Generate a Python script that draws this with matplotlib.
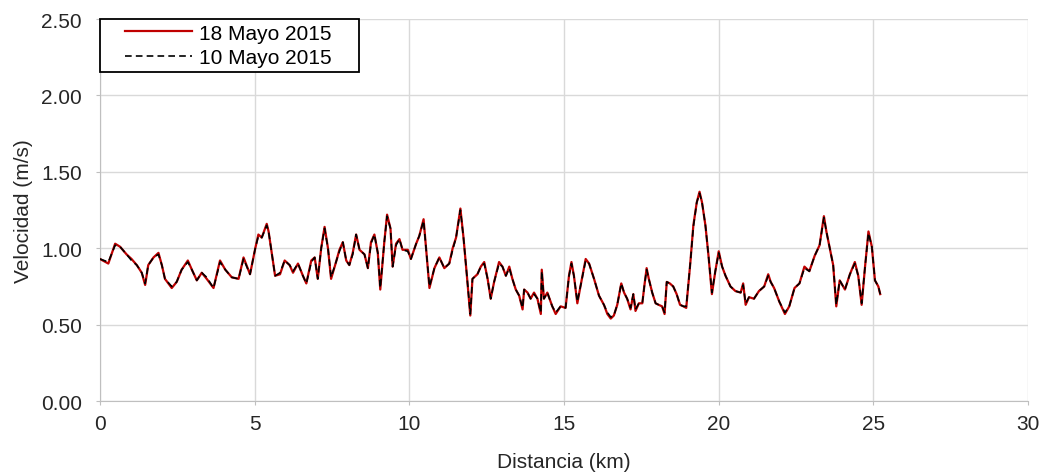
import numpy as np
import matplotlib.pyplot as plt
from matplotlib.legend_handler import HandlerLine2D

# distancia (km) y velocidad (m/s)
dist = [0.00, 0.27, 0.49, 0.65, 0.86, 1.02, 1.19, 1.35, 1.46, 1.56,
        1.73, 1.89, 2.00, 2.10, 2.32, 2.48, 2.64, 2.84, 2.97, 3.13,
        3.29, 3.45, 3.67, 3.88, 4.05, 4.26, 4.48, 4.64, 4.85, 5.02,
        5.12, 5.23, 5.39, 5.45, 5.66, 5.82,
        5.97, 6.13, 6.24, 6.40, 6.56, 6.67, 6.83, 6.94, 7.04, 7.15,
        7.26, 7.37, 7.47, 7.63, 7.74, 7.85, 7.96, 8.06, 8.17, 8.28,
        8.39, 8.55, 8.66, 8.76, 8.87, 8.98, 9.06, 9.19, 9.28, 9.39,
        9.46, 9.57, 9.68, 9.78, 9.95, 10.05, 10.22, 10.32, 10.46, 10.54,
        10.65, 10.81, 10.97, 11.13, 11.29, 11.40, 11.51, 11.65, 11.75, 11.86,
        11.97, 12.04, 12.20, 12.31, 12.42,
        12.53, 12.63, 12.74, 12.90, 13.01, 13.12, 13.23, 13.33, 13.44, 13.55,
        13.66, 13.71, 13.82, 13.92, 14.03, 14.14, 14.25, 14.28, 14.35, 14.46,
        14.62, 14.73, 14.89, 15.05, 15.16, 15.24, 15.32, 15.43, 15.54, 15.70,
        15.81, 15.97, 16.13, 16.29, 16.40, 16.51, 16.61, 16.72, 16.85, 16.94,
        17.04, 17.15, 17.24, 17.31, 17.42, 17.53, 17.60, 17.67, 17.74, 17.85,
        17.96, 18.06, 18.17, 18.25,
        18.32, 18.42, 18.53, 18.64, 18.75, 18.86, 18.95, 19.08, 19.18, 19.29,
        19.38, 19.46, 19.57, 19.67, 19.78, 19.89, 20.00, 20.11, 20.22, 20.38,
        20.54, 20.71, 20.79, 20.87, 20.98, 21.14, 21.30, 21.47, 21.60, 21.68,
        21.79, 21.96, 22.14, 22.28, 22.45, 22.61, 22.77, 22.93, 23.10, 23.26,
        23.40, 23.48, 23.59, 23.70, 23.80, 23.91, 24.08, 24.24, 24.40, 24.51,
        24.62, 24.73, 24.84, 24.95, 25.05, 25.16, 25.22]

vel_18 = [0.93, 0.90, 1.03, 1.01, 0.96, 0.93, 0.89, 0.84, 0.76, 0.89,
          0.94, 0.97, 0.89, 0.80, 0.74, 0.78, 0.86, 0.92, 0.86, 0.79,
          0.84, 0.80, 0.74, 0.92, 0.86, 0.81, 0.80, 0.94, 0.83, 1.00,
          1.09, 1.07, 1.16, 1.11, 0.82, 0.83,
          0.92, 0.89, 0.84, 0.90, 0.82, 0.77, 0.92, 0.94, 0.80, 1.00,
          1.14, 1.00, 0.80, 0.91, 0.99, 1.04, 0.92, 0.89, 0.97, 1.09,
          0.99, 0.96, 0.87, 1.04, 1.09, 0.97, 0.73, 1.04, 1.22, 1.13,
          0.88, 1.03, 1.06, 0.99, 0.99, 0.93, 1.03, 1.08, 1.19, 1.00,
          0.74, 0.87, 0.94, 0.87, 0.90, 1.00, 1.07, 1.26, 1.07, 0.82,
          0.56, 0.80, 0.83, 0.88, 0.91,
          0.80, 0.67, 0.78, 0.91, 0.88, 0.82, 0.88, 0.80, 0.73, 0.69,
          0.60, 0.73, 0.71, 0.67, 0.71, 0.67, 0.57, 0.86, 0.67, 0.71,
          0.62, 0.57, 0.62, 0.61, 0.82, 0.91, 0.82, 0.64, 0.76, 0.93,
          0.90, 0.80, 0.69, 0.63, 0.57, 0.54, 0.56, 0.63, 0.77, 0.71,
          0.67, 0.60, 0.70, 0.59, 0.64, 0.64, 0.76, 0.87, 0.80, 0.71,
          0.64, 0.63, 0.62, 0.57,
          0.78, 0.77, 0.75, 0.70, 0.63, 0.62, 0.61, 0.90, 1.15, 1.30,
          1.37, 1.30, 1.15, 0.95, 0.70, 0.85, 0.98, 0.88, 0.82, 0.75,
          0.72, 0.71, 0.77, 0.63, 0.68, 0.67, 0.72, 0.75, 0.83, 0.78,
          0.74, 0.65, 0.57, 0.62, 0.74, 0.77, 0.88, 0.85, 0.95, 1.02,
          1.21, 1.11, 1.00, 0.89, 0.62, 0.79, 0.73, 0.83, 0.91, 0.82,
          0.63, 0.88, 1.11, 1.01, 0.79, 0.75, 0.70]

vel_10 = [0.93, 0.91, 1.02, 1.01, 0.96, 0.92, 0.89, 0.84, 0.77, 0.89,
          0.94, 0.96, 0.89, 0.80, 0.75, 0.78, 0.86, 0.91, 0.86, 0.79,
          0.84, 0.81, 0.74, 0.91, 0.86, 0.81, 0.80, 0.93, 0.83, 1.00,
          1.08, 1.07, 1.15, 1.11, 0.82, 0.84,
          0.92, 0.89, 0.85, 0.90, 0.82, 0.77, 0.91, 0.94, 0.80, 1.00,
          1.13, 1.00, 0.81, 0.91, 0.98, 1.04, 0.92, 0.89, 0.96, 1.09,
          0.99, 0.96, 0.87, 1.03, 1.09, 0.97, 0.74, 1.04, 1.21, 1.13,
          0.88, 1.02, 1.06, 0.99, 0.98, 0.93, 1.03, 1.08, 1.18, 1.00,
          0.75, 0.87, 0.94, 0.87, 0.90, 0.99, 1.07, 1.25, 1.07, 0.82,
          0.57, 0.80, 0.83, 0.88, 0.90,
          0.80, 0.67, 0.78, 0.90, 0.88, 0.82, 0.87, 0.80, 0.73, 0.69,
          0.61, 0.73, 0.71, 0.67, 0.70, 0.67, 0.58, 0.85, 0.67, 0.71,
          0.62, 0.58, 0.62, 0.61, 0.82, 0.90, 0.82, 0.65, 0.76, 0.92,
          0.90, 0.80, 0.69, 0.63, 0.58, 0.55, 0.56, 0.63, 0.77, 0.71,
          0.67, 0.61, 0.70, 0.60, 0.64, 0.64, 0.76, 0.86, 0.80, 0.71,
          0.64, 0.63, 0.62, 0.58,
          0.78, 0.77, 0.75, 0.70, 0.63, 0.62, 0.62, 0.90, 1.14, 1.30,
          1.36, 1.30, 1.15, 0.95, 0.71, 0.85, 0.97, 0.88, 0.82, 0.75,
          0.72, 0.71, 0.76, 0.64, 0.68, 0.67, 0.72, 0.75, 0.82, 0.78,
          0.74, 0.65, 0.58, 0.62, 0.74, 0.77, 0.87, 0.85, 0.95, 1.02,
          1.20, 1.11, 1.00, 0.89, 0.63, 0.79, 0.73, 0.83, 0.90, 0.82,
          0.64, 0.88, 1.10, 1.01, 0.79, 0.75, 0.70]

xticks = [0, 5, 10, 15, 20, 25, 30]
yticks = [0.0, 0.5, 1.0, 1.5, 2.0, 2.5]


# linea de la leyenda con margen a la izquierda (como en excel)
class HandlerIzq(HandlerLine2D):
    def get_xdata(self, legend, xdescent, ydescent, width, height, fontsize):
        xd = np.array([-xdescent + 1.0 * fontsize, width - xdescent])
        return xd, xd


plt.rcParams['font.family'] = ['Liberation Sans', 'DejaVu Sans']

fig = plt.figure(figsize=(10.48, 4.77), dpi=100)
ax = fig.add_axes([0.0954, 0.157, 0.8856, 0.801])

ax.plot(dist, vel_18, color='#c00000', lw=1.6, label='18 Mayo 2015', zorder=3)
ax.plot(dist, vel_10, color='black', lw=1.2, ls=(0, (4, 2.5)), label='10 Mayo 2015', zorder=4)

ax.set_xlim(0, 30)
ax.set_ylim(0, 2.5)
ax.set_xticks(xticks)
ax.set_yticks(yticks)
ax.set_yticklabels([f"{v:.2f}" for v in yticks])
ax.grid(True, color='#d9d9d9', lw=1)
ax.set_axisbelow(True)

for s in ['top', 'right']:
    ax.spines[s].set_visible(False)
for s in ['left', 'bottom']:
    ax.spines[s].set_color('#bfbfbf')
ax.tick_params(axis='both', colors='#bfbfbf', labelcolor='#262626', labelsize=15, length=3, direction='out')
ax.tick_params(axis='y', pad=10)
ax.tick_params(axis='x', pad=6)

ax.set_xlabel("Distancia (km)", fontsize=15, color='#262626', labelpad=14)
ax.set_ylabel("Velocidad (m/s)", fontsize=15, color='#262626', labelpad=6)

leg = ax.legend(loc='upper left', bbox_to_anchor=(0.0, 0.0, 0.279, 1.0), mode='expand',
                borderaxespad=0.0, fontsize=15, frameon=True, fancybox=False,
                edgecolor='black', framealpha=1, handlelength=4.2, handletextpad=0.34,
                labelspacing=0.28, borderpad=0.22,
                handler_map={plt.Line2D: HandlerIzq()})
leg.get_frame().set_linewidth(1.3)

fig.savefig("out.png", dpi=100)
